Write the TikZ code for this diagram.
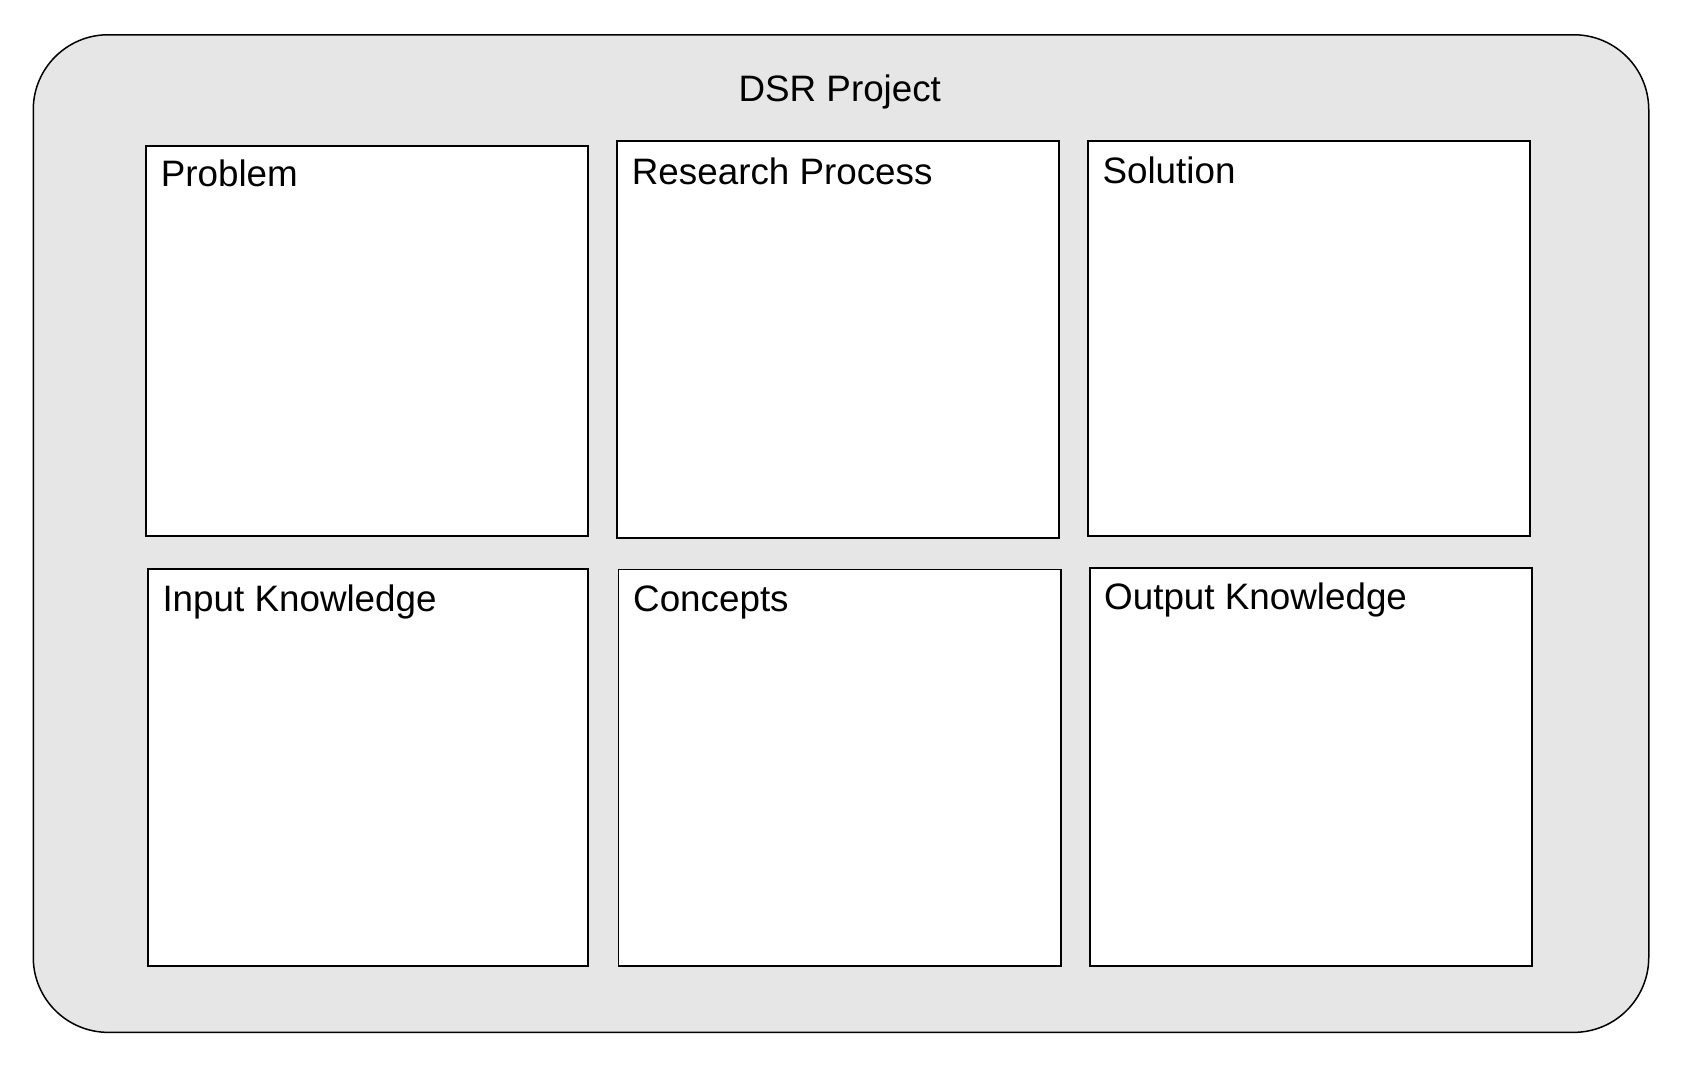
\documentclass[tikz,border=0pt]{standalone}
\usepackage{fontspec}
\setmainfont{Liberation Sans}
\definecolor{outerfill}{HTML}{E6E6E6}
\begin{document}
\begin{tikzpicture}[x=1pt,y=-1pt,
  outerbox/.style={draw=black, fill=outerfill, line width=1.5pt, rounded corners=75pt, inner sep=0pt, anchor=north west},
  cellbox/.style={draw=black, fill=white, line width=1.5pt, inner sep=0pt, anchor=north west},
  celltext/.style={inner sep=0pt, anchor=base west, font=\fontsize{36.8}{44}\selectfont},
  titletext/.style={inner sep=0pt, anchor=base, font=\fontsize{36.8}{44}\selectfont}]
\useasboundingbox (0,0) rectangle (1682,1068);
\node[outerbox, minimum width=1615.5pt, minimum height=997.6pt] (outer) at (32.5,34) {};
\node[titletext] (title) at (839.8,101) {DSR Project};
\node[cellbox, minimum width=442pt, minimum height=390.3pt] (problem) at (145.2,145) {};
\node[cellbox, minimum width=442pt, minimum height=397pt] (research) at (616.2,140.3) {};
\node[cellbox, minimum width=442pt, minimum height=395pt] (solution) at (1087.2,140.3) {};
\node[cellbox, minimum width=440.2pt, minimum height=397pt] (input) at (147,568.3) {};
\node[cellbox, minimum width=442.5pt, minimum height=396.7pt] (concepts) at (617.7,568.7) {};
\node[cellbox, minimum width=442pt, minimum height=398.4pt] (output) at (1089.2,567) {};
\node[celltext] (problemlabel) at (160.6,186) {Problem};
\node[celltext] (researchlabel) at (631.7,184.3) {Research Process};
\node[celltext] (solutionlabel) at (1102.3,183.3) {Solution};
\node[celltext] (inputlabel) at (162.3,611.7) {Input Knowledge};
\node[celltext] (conceptslabel) at (633,611) {Concepts};
\node[celltext] (outputlabel) at (1104,609.5) {Output Knowledge};
\end{tikzpicture}
\end{document}
